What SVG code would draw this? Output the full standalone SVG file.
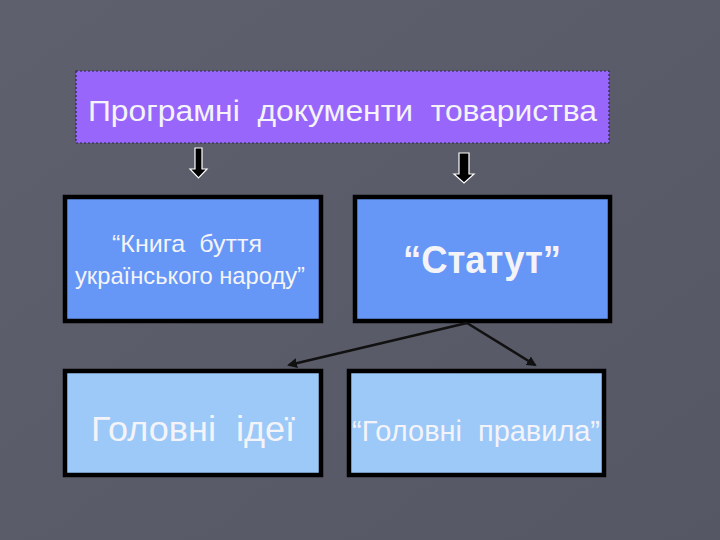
<svg xmlns="http://www.w3.org/2000/svg" width="720" height="540" viewBox="0 0 720 540" xml:space="preserve">
<defs>
<style>
.t{font-family:"Liberation Sans",Arial,sans-serif;fill:#f4f4f8;white-space:pre}
.box{stroke:#000;stroke-width:4.5}
.con{stroke:#111;stroke-width:2.5;fill:none}
.blk{fill:#000;stroke:#fff;stroke-width:1.2}
</style>
<marker id="ah" viewBox="0 0 10 10" refX="8" refY="5" markerWidth="4" markerHeight="4" orient="auto">
<path d="M0,0 L10,5 L0,10 z" fill="#111"/>
</marker>
<linearGradient id="bg" x1="0" y1="0" x2="1" y2="1">
<stop offset="0" stop-color="#5e606d"/>
<stop offset="1" stop-color="#555765"/>
</linearGradient>
</defs>
<rect width="720" height="540" fill="url(#bg)"/>
<g id="top">
<rect x="76" y="71" width="533" height="72" fill="#9966fc" stroke="#2a2a40" stroke-width="1.2" stroke-dasharray="2 2"/>
<text class="t" x="88" y="121" font-size="30" textLength="509" lengthAdjust="spacingAndGlyphs">Програмні  документи  товариства</text>
</g>
<g id="arrow1">
<path class="blk" d="M195,148 H202 V169 H207 L198.5,178 L190,169 H195 Z"/>
</g>
<g id="arrow2">
<path class="blk" d="M459,153 H469 V174 H474 L464,183 L454,174 H459 Z"/>
</g>
<g id="kniga">
<rect class="box" x="65" y="197" width="256" height="124" fill="#6696f6"/>
<text class="t" x="187" y="252" font-size="24" text-anchor="middle" textLength="150" lengthAdjust="spacingAndGlyphs">“Книга  буття</text>
<text class="t" x="190" y="284" font-size="24" text-anchor="middle" textLength="230" lengthAdjust="spacingAndGlyphs">українського народу”</text>
</g>
<g id="statut">
<rect class="box" x="355" y="197" width="255" height="124" fill="#6696f6"/>
<text class="t" x="482" y="273" font-size="38" font-weight="bold" text-anchor="middle" textLength="158" lengthAdjust="spacingAndGlyphs">“Статут”</text>
</g>
<g id="idei">
<rect class="box" x="65" y="371" width="256" height="104" fill="#9cc9f8"/>
<text class="t" x="193" y="441" font-size="35" text-anchor="middle" textLength="204" lengthAdjust="spacingAndGlyphs">Головні  ідеї</text>
</g>
<g id="pravyla">
<rect class="box" x="349" y="371" width="255" height="104" fill="#9cc9f8"/>
<text class="t" x="476" y="441" font-size="29" text-anchor="middle" textLength="248" lengthAdjust="spacingAndGlyphs">“Головні  правила”</text>
</g>
<g id="connectors">
<line class="con" x1="467" y1="323" x2="289" y2="365" marker-end="url(#ah)"/>
<line class="con" x1="467" y1="323" x2="535" y2="365" marker-end="url(#ah)"/>
</g>
</svg>
